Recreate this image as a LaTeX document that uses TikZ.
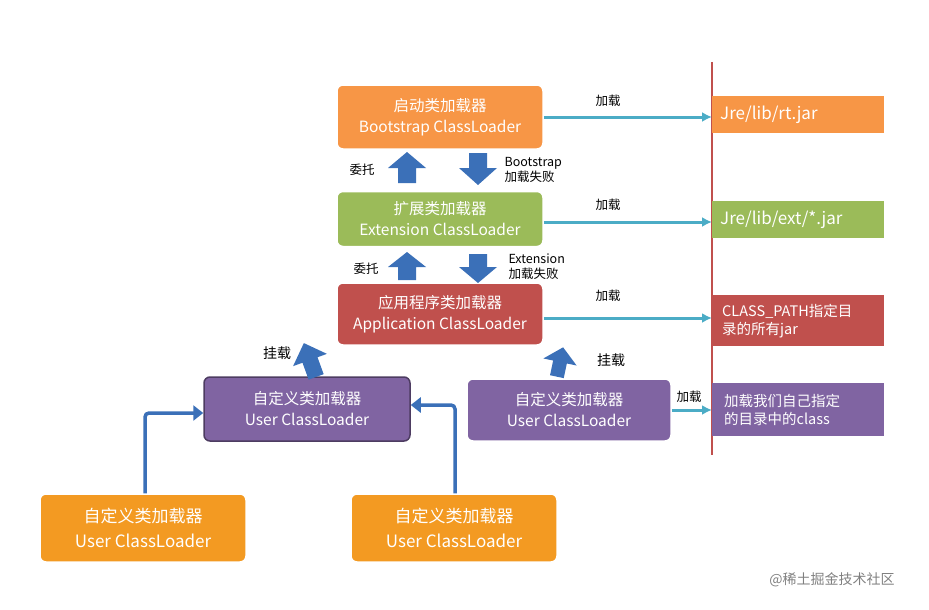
\documentclass[tikz,border=0pt]{standalone}
\usepackage{fontspec}
\setmainfont{Noto Sans CJK SC}
\begin{document}
\definecolor{bor}{HTML}{F79646}
\definecolor{bgr}{HTML}{9BBB59}
\definecolor{bre}{HTML}{C0504D}
\definecolor{bpu}{HTML}{8064A2}
\definecolor{bo2}{HTML}{F39A22}
\definecolor{teal}{HTML}{4BACC6}
\definecolor{blu}{HTML}{3B70B8}
\begin{tikzpicture}[x=1pt,y=-1pt,
 box/.style={rounded corners=6pt,draw=white,line width=1.5pt,text=white,align=center,font=\fontsize{15.5}{21}\selectfont},
 side/.style={text=white,align=left,font=\fontsize{14.5}{18}\selectfont,inner sep=0pt},
 con/.style={teal,line width=3pt,-{Latex[length=10pt,width=10pt]}},
 lab/.style={font=\fontsize{12.5}{15}\selectfont,align=left},
 blk/.style={fill=blu},
 elb/.style={blu,line width=3.5pt,-{Triangle[length=10pt,width=15pt]}}]
\usetikzlibrary{arrows.meta}
\useasboundingbox (0,0) rectangle (929,610);
% boxes
\node[box,fill=bor,minimum width=206pt,minimum height=64pt] (bs) at (440,117) {启动类加载器\\Bootstrap ClassLoader};
\node[box,fill=bgr,minimum width=206pt,minimum height=55pt] (ex) at (440,219) {扩展类加载器\\Extension ClassLoader};
\node[box,fill=bre,minimum width=206pt,minimum height=62pt] (ap) at (440,314) {应用程序类加载器\\Application ClassLoader};
\node[box,draw=bpu!60!black,fill=bpu,minimum width=206pt,minimum height=64pt] (u1) at (307,409) {自定义类加载器\\User ClassLoader};
\node[box,fill=bpu,minimum width=204pt,minimum height=62pt] (u2) at (569,410) {自定义类加载器\\User ClassLoader};
\node[box,fill=bo2,minimum width=206pt,minimum height=68pt,font=\fontsize{17}{25}\selectfont] (b1) at (143,528) {自定义类加载器\\User ClassLoader};
\node[box,fill=bo2,minimum width=206pt,minimum height=68pt,font=\fontsize{17}{25}\selectfont] (b2) at (454,528) {自定义类加载器\\User ClassLoader};
% red line
\draw[bre,line width=1.5pt] (712,62) -- (712,455);
% right boxes
\fill[bor] (712,96) rectangle (884,133);
\node[side,anchor=west,font=\fontsize{17}{20}\selectfont] (r1) at (720,115) {Jre/lib/rt.jar};
\fill[bgr] (712,201) rectangle (884,238);
\node[side,anchor=west,font=\fontsize{17}{20}\selectfont] (r2) at (720,220) {Jre/lib/ext/*.jar};
\fill[bre] (712,295) rectangle (884,346);
\node[side,anchor=west] (r3) at (722,321) {CLASS\_PATH指定目\\录的所有jar};
\fill[bpu] (712,383) rectangle (884,436);
\node[side,anchor=west] (r4) at (724,410) {加载我们自己指定\\的目录中的class};
\coordinate (e1) at (712,117);
\coordinate (e2) at (712,222);
\coordinate (e3) at (712,318);
\coordinate (e4) at (712,410);
\draw[con] (bs.east|-e1) -- (e1);
\draw[con] (ex.east|-e2) -- (e2);
\draw[con] (ap.east|-e3) -- (e3);
\draw[con] (u2.east|-e4) -- (e4);
\node[lab] (l1) at (608,101) {加载};
\node[lab] (l2) at (608,205) {加载};
\node[lab] (l3) at (608,296) {加载};
\node[lab] (l4) at (689,397) {加载};
% block arrows
\fill[blk] (398,183) -- (416,183) -- (416,168) -- (426,168) -- (407,152) -- (388,168) -- (398,168) -- cycle;
\fill[blk] (469,153) -- (487,153) -- (487,168) -- (497,168) -- (478,185) -- (459,168) -- (469,168) -- cycle;
\fill[blk] (398,280) -- (416,280) -- (416,267) -- (426,267) -- (407,252) -- (388,267) -- (398,267) -- cycle;
\fill[blk] (469,254) -- (487,254) -- (487,267) -- (497,267) -- (478,283) -- (459,267) -- (469,267) -- cycle;
\node[lab] (w1) at (362,170) {委托};
\node[lab] (w2) at (366,269) {委托};
\node[lab,anchor=west] (f1) at (501,170) {Bootstrap\\加载失败};
\node[lab,anchor=west] (f2) at (505,267) {Extension\\加载失败};
% mount arrows
\fill[blk,rotate around={20:(310,360)}] (302,378) -- (318,378) -- (318,360) -- (328,360) -- (310,342) -- (292,360) -- (302,360) -- cycle;
\fill[blk,rotate around={-12:(560,362)}] (553,377) -- (567,377) -- (567,362) -- (577,362) -- (560,347) -- (543,362) -- (553,362) -- cycle;
\node[lab,font=\fontsize{14}{16}\selectfont] (m1) at (277,353) {挂载};
\node[lab,font=\fontsize{14}{16}\selectfont] (m2) at (611,360) {挂载};
% elbow arrows
\draw[elb,rounded corners=4pt] (b1.north-|145,0) -- (145,413) -- (u1.west|-0,413);
\draw[elb,rounded corners=4pt] (b2.north-|455,0) -- (455,405) -- (u1.east|-0,405);
\node[text=gray,font=\fontsize{14}{16}\selectfont] (wm) at (832,580) {@稀土掘金技术社区};
\end{tikzpicture}
\end{document}
